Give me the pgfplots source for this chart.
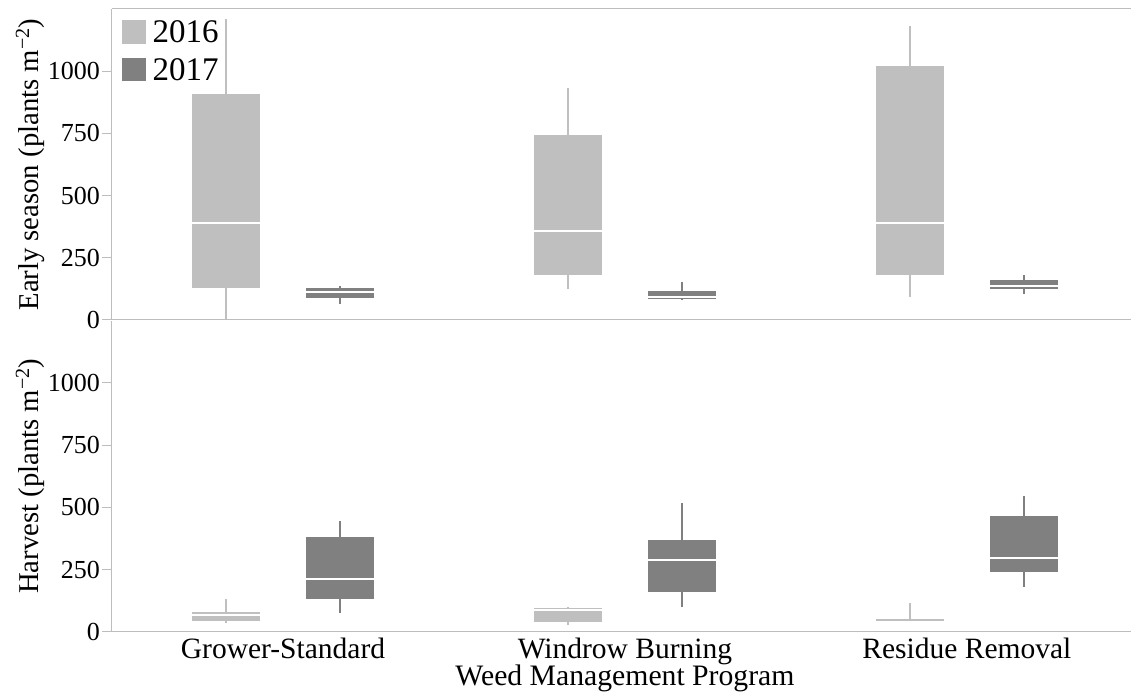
\documentclass[border=0pt]{standalone}
\usepackage{fontspec}
\setmainfont{Liberation Serif}
\usepackage{pgfplots}
\pgfplotsset{compat=1.18}
\definecolor{c16}{HTML}{BFBFBF}
\definecolor{c17}{HTML}{808080}
\definecolor{axgray}{HTML}{BDBDBD}
\pgfplotsset{
  panel/.style={
    scale only axis, width=1019pt, height=311pt,
    xmin=0.5, xmax=3.48, ymin=0, ymax=1250,
    ytick={0,250,500,750,1000},
    yticklabels={0,250,500,750,1000},
    axis y line*=left,
    axis line style={draw=axgray, line width=1pt, -},
    tick align=outside, major tick length=9.5pt,
    ytick style={draw=axgray, line width=1pt},
    xtick style={draw=none},
    yticklabel style={font=\fontsize{26}{30}\selectfont, anchor=east, inner sep=0pt, xshift=-2.5pt},
    ylabel style={at={(axis description cs:-0.0805,0.5)}, anchor=center, font=\fontsize{28.7}{32}\selectfont},
    clip=false,
  },
}
% #1 left edge, #2 centre, #3 right edge, #4 lower whisker, #5 Q1, #6 median, #7 Q3, #8 upper whisker, #9 colour
\newcommand{\bxp}[9]{%
  \addplot[draw=#9, line width=1.6pt, forget plot] coordinates {(#2,#4) (#2,#5)};
  \addplot[draw=#9, line width=1.6pt, forget plot] coordinates {(#2,#7) (#2,#8)};
  \addplot[fill=#9, draw=none, forget plot] coordinates {(#1,#5) (#3,#5) (#3,#7) (#1,#7)} -- cycle;
  \addplot[draw=white, line width=2pt, forget plot] coordinates {(#1,#6) (#3,#6)};
}
\begin{document}
\begin{tikzpicture}
\useasboundingbox (-112pt,-62.3pt) rectangle (1019pt,631.7pt);
% bottom panel: Harvest
\begin{axis}[panel, at={(0pt,0pt)}, anchor=south west,
    axis x line*=bottom,
    xtick={1,2,3},
    xticklabels={Grower-Standard, Windrow Burning, Residue Removal},
    xticklabel style={font=\fontsize{29.5}{32}\selectfont, anchor=base, inner sep=0pt, yshift=-17.1pt},
    xlabel={Weed Management Program},
    xlabel style={at={(axis description cs:0.5034,-0.174)}, anchor=base, inner sep=0pt, font=\fontsize{29.7}{32}\selectfont},
    ylabel={Harvest (plants m\textsuperscript{−2})},
  ]
  \bxp{0.7333}{0.8333}{0.9333}{34}{43}{66}{79}{130}{c16}
  \bxp{1.0667}{1.1667}{1.2667}{77}{132}{211}{379}{443}{c17}
  \bxp{1.7333}{1.8333}{1.9333}{26}{39}{87}{97}{101}{c16}
  \bxp{2.0667}{2.1667}{2.2667}{98}{161}{290}{369}{517}{c17}
  \bxp{2.7333}{2.8333}{2.9333}{36}{41}{41}{50}{117}{c16}
  \bxp{3.0667}{3.1667}{3.2667}{181}{238}{296}{467}{547}{c17}
\end{axis}
% top panel: Early season
\begin{axis}[panel, at={(0pt,311.7pt)}, anchor=south west,
    axis x line*=box,
    xtick=\empty,
    ylabel={Early season (plants m\textsuperscript{−2})},
    legend style={at={(axis description cs:0,1)}, anchor=north west, xshift=10pt, yshift=-11pt,
      draw=none, fill=none, inner sep=0pt, row sep=13.5pt,
      font=\fontsize{33}{36}\selectfont,
      nodes={inner sep=0pt, anchor=base west}},
    legend cell align=left,
  ]
  \bxp{0.7333}{0.8333}{0.9333}{0}{129}{389}{909}{1211}{c16}
  \bxp{1.0667}{1.1667}{1.2667}{64}{90}{111}{127}{137}{c17}
  \bxp{1.7333}{1.8333}{1.9333}{126}{180}{358}{743}{932}{c16}
  \bxp{2.0667}{2.1667}{2.2667}{80}{83}{93}{117}{154}{c17}
  \bxp{2.7333}{2.8333}{2.9333}{94}{181}{388}{1021}{1180}{c16}
  \bxp{3.0667}{3.1667}{3.2667}{105}{123}{138}{162}{180}{c17}
  \addlegendimage{legend image code/.code={\fill[c16] (0pt,0pt) rectangle (23pt,22.5pt); \path (30pt,0pt);}}
  \addlegendentry{2016}
  \addlegendimage{legend image code/.code={\fill[c17] (0pt,0pt) rectangle (23pt,22.5pt); \path (30pt,0pt);}}
  \addlegendentry{2017}
\end{axis}
\end{tikzpicture}
\end{document}
